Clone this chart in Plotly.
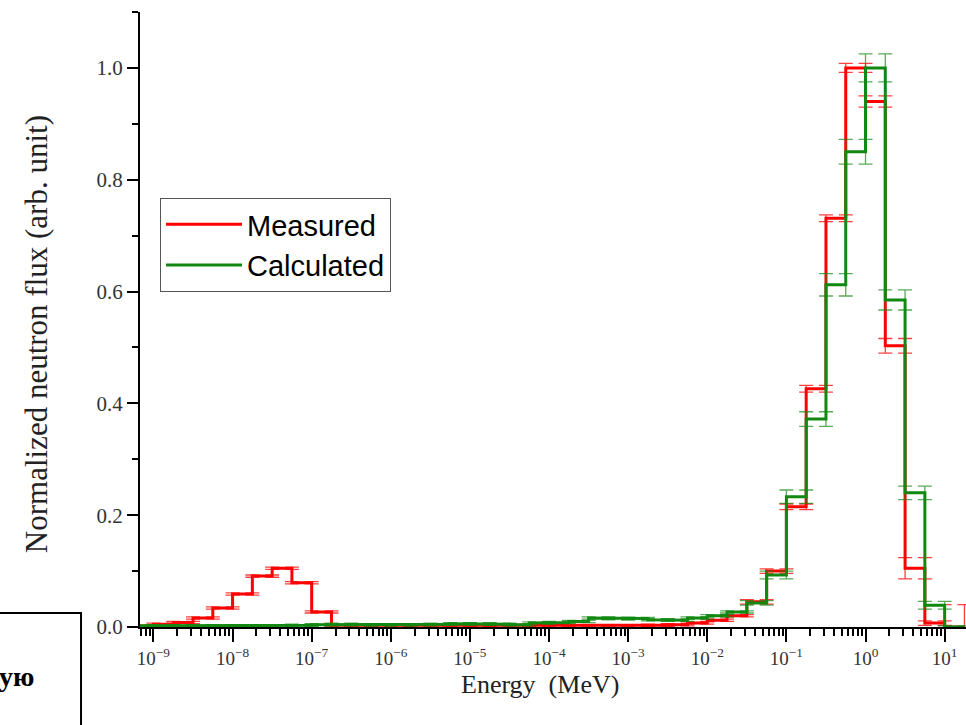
import plotly.graph_objects as go

# Bin lower edges (log10 of energy in MeV), quarter-decade bins
bin_lo_log = [-9.25 + 0.25 * i for i in range(42)]
bin_width_log = 0.25

measured = [0.002, 0.005, 0.008, 0.016, 0.034, 0.059, 0.091, 0.105, 0.079, 0.027,
            0.003, 0.002, 0.002, 0.002, 0.002, 0.002, 0.003, 0.003, 0.002, 0.002,
            0.002, 0.002, 0.002, 0.002, 0.002, 0.002, 0.003, 0.004, 0.007, 0.012,
            0.020, 0.045, 0.100, 0.215, 0.426, 0.731, 1.000, 0.940, 0.503, 0.105,
            0.007, 0.000]
measured_err = [0.002] * 31 + [0.004, 0.004, 0.005, 0.006, 0.006, 0.008, 0.010, 0.013, 0.019,
                                0.004, 0.040]

calculated = [0.002, 0.002, 0.002, 0.002, 0.002, 0.002, 0.002, 0.002, 0.003, 0.004,
              0.005, 0.004, 0.004, 0.004, 0.004, 0.005, 0.006, 0.006, 0.005, 0.004,
              0.007, 0.008, 0.010, 0.016, 0.015, 0.015, 0.013, 0.012, 0.016, 0.020,
              0.027, 0.043, 0.093, 0.233, 0.372, 0.612, 0.850, 1.000, 0.585, 0.240,
              0.039, 0.000]
calculated_err = [0.002] * 31 + [0.004, 0.007, 0.012, 0.013, 0.020, 0.022, 0.025, 0.018, 0.012,
                                  0.007, 0.002]

x_tick_vals = [1e-9, 1e-8, 1e-7, 1e-6, 1e-5, 1e-4, 1e-3, 1e-2, 1e-1, 1e0, 1e1]
x_tick_text = ["10<sup>−9</sup>", "10<sup>−8</sup>", "10<sup>−7</sup>", "10<sup>−6</sup>",
               "10<sup>−5</sup>", "10<sup>−4</sup>", "10<sup>−3</sup>", "10<sup>−2</sup>",
               "10<sup>−1</sup>", "10<sup>0</sup>", "10<sup>1</sup>"]
y_tick_vals = [0.0, 0.2, 0.4, 0.6, 0.8, 1.0]
y_tick_text = ["0.0", "0.2", "0.4", "0.6", "0.8", "1.0"]


def step_points(values, errors):
    xs, ys, es = [], [], []
    for lo, v, e in zip(bin_lo_log, values, errors):
        xs += [10 ** lo, 10 ** (lo + bin_width_log)]
        ys += [v, v]
        es += [e, e]
    return xs, ys, es


fig = go.Figure()
for name, vals, errs, col, ecol in [
    ("Measured", measured, measured_err, "#ff0000", "rgba(255,0,0,0.75)"),
    ("Calculated", calculated, calculated_err, "#118811", "rgba(17,136,17,0.7)"),
]:
    xs, ys, es = step_points(vals, errs)
    fig.add_trace(go.Scatter(
        x=xs, y=ys, mode="lines", name=name,
        line=dict(color=col, width=3),
        error_y=dict(type="data", array=es, visible=True, color=ecol,
                     thickness=1.3, width=7),
    ))

minor_vals = [m * 10 ** k for k in range(-10, 2) for m in range(2, 10)]

serif = "Liberation Serif"
fig.update_layout(
    width=966, height=725,
    margin=dict(l=140, r=0, t=12, b=98),
    paper_bgcolor="white", plot_bgcolor="white",
    showlegend=True,
    legend=dict(x=0.0242, y=0.6976, xanchor="left", yanchor="top",
                bordercolor="#555555", borderwidth=1, bgcolor="white",
                font=dict(family="Liberation Sans", size=29, color="black"),
                itemwidth=76, tracegroupgap=0),
    xaxis=dict(type="log", range=[-9.17, 1.27], showgrid=False, zeroline=False,
               automargin=False,
               showline=True, linecolor="black", linewidth=2,
               ticks="outside", ticklen=13, tickwidth=2, tickcolor="black",
               tickmode="array", tickvals=x_tick_vals, ticktext=x_tick_text,
               tickfont=dict(family=serif, size=19, color="#333333"),
               minor=dict(ticks="outside", ticklen=7, tickwidth=1.5, tickcolor="black",
                          tickmode="array", tickvals=minor_vals, showgrid=False)),
    yaxis=dict(range=[0, 1.1], showgrid=False, zeroline=False, automargin=False,
               showline=True, linecolor="black", linewidth=2,
               ticks="outside", ticklen=11, tickwidth=2, tickcolor="black",
               tickmode="array", tickvals=y_tick_vals, ticktext=y_tick_text,
               tickfont=dict(family=serif, size=21, color="#333333"),
               minor=dict(ticks="outside", ticklen=6, tickwidth=1.5, tickcolor="black", dtick=0.1)),
)

fig.add_annotation(text="Normalized neutron flux (arb. unit)", textangle=-90,
                   xref="paper", yref="paper", x=-0.126, y=0.476,
                   xanchor="center", yanchor="middle", showarrow=False,
                   font=dict(family=serif, size=31, color="#222222"))
fig.add_annotation(text="Energy  (MeV)",
                   xref="paper", yref="paper", x=0.4843, y=-0.094,
                   xanchor="center", yanchor="middle", showarrow=False,
                   font=dict(family=serif, size=26, color="#222222"))

# cropped text box from the source page (bottom-left)
fig.add_shape(type="rect", xref="paper", yref="paper",
              x0=-0.2, x1=-0.0714, y0=-0.2, y1=0.0228,
              line=dict(color="black", width=2), fillcolor="rgba(0,0,0,0)")
fig.add_annotation(text="<b>ую</b>", xref="paper", yref="paper",
                   x=-0.1259, y=-0.081, xanchor="right", yanchor="middle",
                   showarrow=False, font=dict(family=serif, size=28, color="black"))

fig.write_html("out.html", config={"displayModeBar": False},
               post_script="document.body.style.margin='0';")
